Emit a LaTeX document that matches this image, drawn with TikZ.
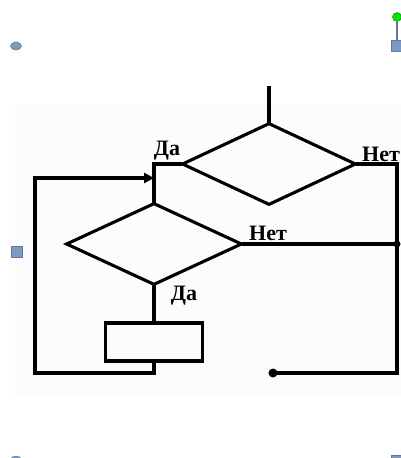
\documentclass[tikz,border=0pt]{standalone}
\usepackage{fontspec}
\setmainfont{Liberation Serif}
\usetikzlibrary{shapes.geometric,arrows.meta}
\definecolor{handle}{HTML}{7F98BF}
\definecolor{handleb}{HTML}{5E78A3}
\definecolor{bgpage}{HTML}{FCFCFC}
\tikzset{
  flow/.style={line width=3.1pt, line cap=rect, line join=miter},
  decision/.style={diamond, draw, line width=3.1pt, inner sep=0pt, aspect=2.1},
  procbox/.style={rectangle, draw, line width=3.1pt, inner sep=0pt, minimum width=97pt, minimum height=38pt},
  lbl/.style={font=\fontsize{22}{22}\selectfont\bfseries, inner sep=0pt},
  hdl/.style={fill=handle, draw=handleb, line width=0.6pt},
  jdot/.style={circle, fill=black, inner sep=0pt, minimum size=7pt}
}
\begin{document}
\begin{tikzpicture}[x=1pt,y=-1pt]
\useasboundingbox (0,0) rectangle (401,458);
\fill[bgpage] (15,105) rectangle (401,398);
% selection handles
\node[hdl, ellipse, minimum width=11pt, minimum height=8pt, inner sep=0pt] (h1) at (16,46) {};
\node[hdl, rectangle, minimum size=11pt, inner sep=0pt] (h2) at (397,46) {};
\node[hdl, rectangle, minimum size=11pt, inner sep=0pt] (h3) at (17,252) {};
\node[hdl, ellipse, minimum width=11pt, minimum height=8pt, inner sep=0pt] (h4) at (16,460) {};
\node[hdl, rectangle, minimum size=11pt, inner sep=0pt] (h5) at (397,461) {};
\node[circle, fill={rgb,255:red,0;green,230;blue,0}, draw={rgb,255:red,40;green,120;blue,40}, line width=0.5pt, minimum size=9pt, inner sep=0pt] (rot) at (397,17) {};
\draw[handleb, line width=1.2pt] (rot) -- (h2);
% flowchart
\coordinate (start) at (269,88);
\node[decision, minimum width=174pt, minimum height=82pt] (d1) at (269,164) {};
\node[decision, minimum width=176pt, minimum height=82pt] (d2) at (154,244) {};
\node[procbox] (box) at (154,342) {};
\coordinate (rb) at (397,373);
\coordinate (endp) at (273,373);
\coordinate (lb) at (35,373);
\coordinate (lt) at (35,178);
\coordinate (jn) at (154,178);
\draw[flow] (start) -- (d1.north);
\draw[flow] (d1.west) -| (jn) -- (d2.north);
\draw[flow] (d1.east) -| (rb) -- (endp);
\node[jdot, minimum size=9pt] (enddot) at (endp) {};
\draw[flow] (d2.east) -- (d2.east -| rb);
\node[jdot] (jd) at (d2.east -| rb) {};
\draw[flow] (d2.south) -- (box.north);
\draw[flow] (box.south) |- (lb) -- (lt);
\draw[flow, -{Triangle[length=10pt,width=10pt]}] (lt) -- (jn);
% labels
\node[lbl] (l1) at (167,151) {Да};
\node[lbl] (l2) at (381,154) {Нет};
\node[lbl] (l3) at (268,233) {Нет};
\node[lbl] (l4) at (184,296) {Да};
\end{tikzpicture}
\end{document}
